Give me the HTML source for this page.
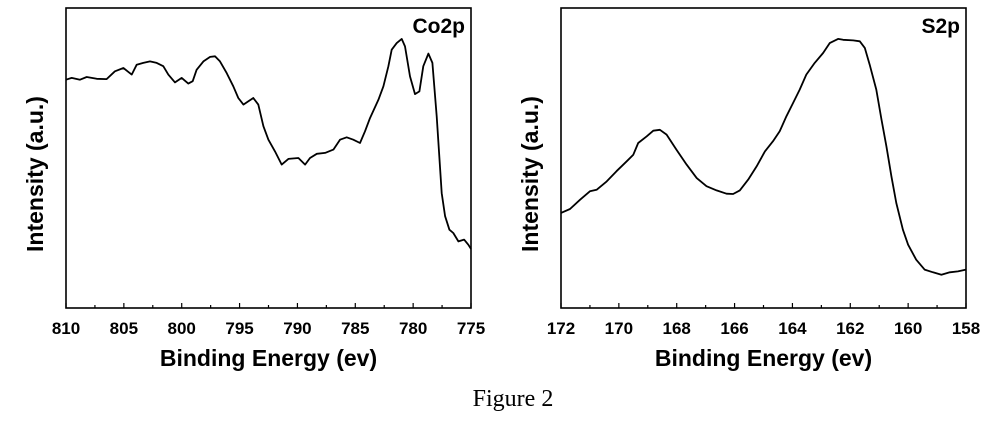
<!DOCTYPE html>
<html><head><meta charset="utf-8"><style>
html,body{margin:0;padding:0;background:#fff;}
svg{display:block;}
text{font-family:"Liberation Sans",Arial,sans-serif;fill:#000;}
</style></head><body>
<svg id="fig" width="1000" height="421" viewBox="0 0 1000 421" xmlns="http://www.w3.org/2000/svg">
<text x="513" y="406" text-anchor="middle" style="font-family:'Liberation Serif',serif;font-size:24px">Figure 2</text>
</svg>
<script>
// Co2p panel data
const coEnergy=[810.0,809.51,808.79,808.21,807.35,806.49,805.77,805.04,804.32,803.89,803.32,802.74,802.16,801.59,801.16,800.58,800.0,799.43,799.05,798.71,798.13,797.55,797.12,796.69,796.11,795.54,795.11,794.67,794.24,793.81,793.38,792.94,792.51,791.94,791.36,790.78,789.92,789.34,788.91,788.33,787.61,786.89,786.32,785.74,785.17,784.59,784.16,783.73,783.0,782.57,782.14,781.85,781.42,780.99,780.70,780.27,779.84,779.46,779.12,778.68,778.34,777.96,777.53,777.24,776.87,776.53,776.09,775.60,775.23,775.0];
const coIntensity=[76.1,76.7,76.1,77.0,76.4,76.3,78.9,80.0,77.8,81.1,81.7,82.2,81.7,80.6,77.8,75.2,76.7,74.8,75.6,79.4,82.2,83.7,83.9,82.2,78.3,73.9,70.0,67.8,68.9,70.0,67.8,60.6,56.1,52.2,47.8,49.7,50.0,47.8,50.0,51.4,51.7,52.8,56.1,56.9,56.1,55.0,58.9,63.3,69.4,73.9,80.6,86.1,88.3,89.7,87.2,77.2,71.3,72.2,80.6,84.8,81.7,63.9,38.3,30.6,26.1,25.0,22.2,22.8,21.1,19.7];
const coTicks=[810,805,800,795,790,785,780,775];
// S2p panel data
const sEnergy=[172.0,171.69,171.34,171.0,170.77,170.42,170.08,169.73,169.50,169.33,169.04,168.81,168.58,168.35,168.01,167.66,167.31,166.97,166.62,166.28,166.05,165.82,165.53,165.24,164.95,164.67,164.44,164.21,163.98,163.75,163.52,163.23,162.94,162.71,162.42,162.25,161.90,161.67,161.50,161.33,161.10,160.92,160.75,160.58,160.41,160.18,160.0,159.72,159.43,159.14,158.85,158.56,158.28,158.0];
const sIntensity=[31.7,33.0,36.1,38.9,39.4,42.2,45.6,48.9,51.1,55.0,57.2,59.1,59.4,57.8,52.8,47.8,43.3,40.6,39.2,38.1,38.0,39.2,42.8,47.2,52.2,55.6,58.9,63.9,68.3,72.8,77.8,81.7,85.0,88.3,89.7,89.4,89.2,88.9,86.7,81.1,72.8,62.8,53.9,43.9,35.0,26.1,21.1,16.1,12.8,11.9,11.1,11.9,12.2,12.8];
const sTicks=[172,170,168,166,164,162,160,158];

const NS="http://www.w3.org/2000/svg";
const svg=document.getElementById('fig');
function mk(tag,attrs,parent){const e=document.createElementNS(NS,tag);for(const k in attrs)e.setAttribute(k,attrs[k]);(parent||svg).appendChild(e);return e;}

function panel(id,left,xmax,xmin,ticks,minorStep,xs,ys,label){
  const top=8,bottom=308,right=left+405;
  const g=mk('g',{});
  
  
  const xScale=v=>left+(xmax-v)/(xmax-xmin)*(right-left);
  const yScale=v=>bottom-v/100*(bottom-top);
  const frame=mk('rect',{x:left,y:top,width:right-left,height:bottom-top,fill:'none',stroke:'#000','stroke-width':1.6},g);
  
  
  for(let v=xmax;v>=xmin-1e-6;v-=minorStep){
    const x=xScale(v);const major=ticks.some(t=>Math.abs(t-v)<1e-6);
    const tk=mk('line',{x1:x,x2:x,y1:bottom,y2:bottom-(major?5:3),stroke:'#000','stroke-width':1.2},g);
    
    
  }
  ticks.forEach(t=>{
    const tl=mk('text',{x:xScale(t),y:334,'text-anchor':'middle','font-size':'17px','font-weight':'bold'},g);
    tl.textContent=t;
    
    
  });
  let d='';xs.forEach((v,i)=>{d+=(i?'L':'M')+xScale(v).toFixed(1)+','+yScale(ys[i]).toFixed(1);});
  const p=mk('path',{d:d,fill:'none',stroke:'#000','stroke-width':1.8,'stroke-linejoin':'round'},g);
  
  
  const xt=mk('text',{x:(left+right)/2,y:366,'text-anchor':'middle','font-size':'23px','font-weight':'bold'},g);
  xt.textContent='Binding Energy (ev)';
  
  
  const yx=left-23;
  const yt=mk('text',{x:yx,y:174,'text-anchor':'middle','font-size':'23px','font-weight':'bold',transform:'rotate(-90 '+yx+' 174)'},g);
  yt.textContent='Intensity (a.u.)';
  
  
  const lb=mk('text',{x:right-6,y:33,'text-anchor':'end','font-size':'21px','font-weight':'bold'},g);
  lb.textContent=label;
  
  
}
panel('co2p',66,810,775,coTicks,2.5,coEnergy,coIntensity,'Co2p');
panel('s2p',561,172,158,sTicks,1,sEnergy,sIntensity,'S2p');
</script>
</body></html>
